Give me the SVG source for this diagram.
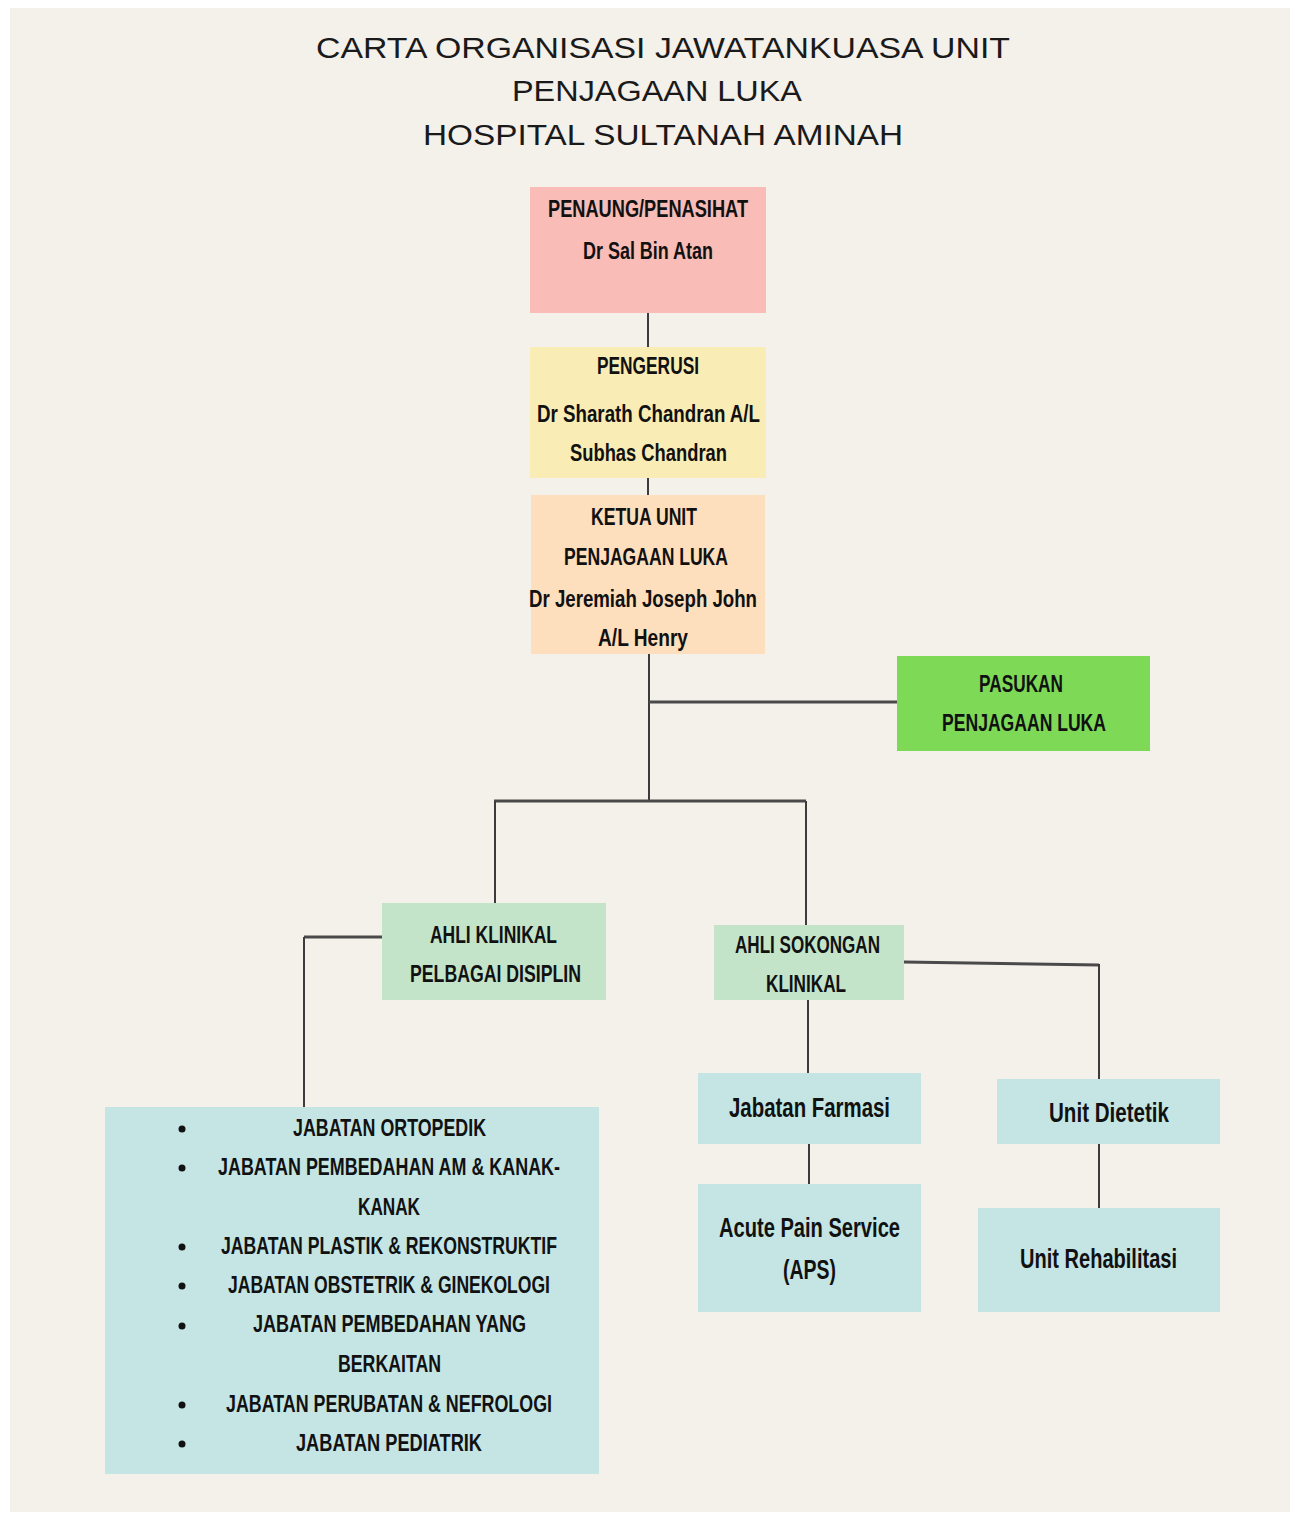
<svg xmlns="http://www.w3.org/2000/svg" width="1295" height="1514" viewBox="0 0 1295 1514">
<style>
.t{font-family:"Liberation Sans",Arial,sans-serif;font-weight:bold;font-size:24px;fill:#111}
.m{font-size:27px}
.title{font-family:"Liberation Sans",Arial,sans-serif;font-size:29px;fill:#1a1a1a}
.c{fill:none;stroke:#3c3c3c;stroke-width:2}
.c3{fill:none;stroke:#4a4a4a;stroke-width:3}
</style>
<rect x="0" y="0" width="1295" height="1514" fill="#ffffff"/>
<rect x="10" y="8" width="1280" height="1504" fill="#F4F0EA"/>
<g id="title">
<text class="title" x="316" y="58" textLength="694" lengthAdjust="spacingAndGlyphs">CARTA ORGANISASI JAWATANKUASA UNIT</text>
<text class="title" x="512" y="101" textLength="290" lengthAdjust="spacingAndGlyphs">PENJAGAAN LUKA</text>
<text class="title" x="423" y="145" textLength="480" lengthAdjust="spacingAndGlyphs">HOSPITAL SULTANAH AMINAH</text>
</g>
<g id="connectors">
<path class="c" d="M648,313 V347"/>
<path class="c" d="M648,478 V495"/>
<path class="c" d="M649,654 V801"/>
<path class="c3" d="M649,702 H897"/>
<path class="c3" d="M494,801 H806"/>
<path class="c" d="M495,801 V903"/>
<path class="c" d="M806,801 V925"/>
<path class="c3" d="M382,937 H304"/>
<path class="c" d="M304,937 V1107"/>
<path class="c3" d="M904,962 L1099,965"/>
<path class="c" d="M1099,964 V1079"/>
<path class="c" d="M808,1000 V1073"/>
<path class="c" d="M809,1144 V1184"/>
<path class="c" d="M1099,1144 V1208"/>
</g>
<g id="penaung">
<rect x="530" y="187" width="236" height="126" fill="#F9BCB6"/>
<text class="t" x="548" y="217" textLength="200" lengthAdjust="spacingAndGlyphs">PENAUNG/PENASIHAT</text>
<text class="t" x="583" y="259" textLength="130" lengthAdjust="spacingAndGlyphs">Dr Sal Bin Atan</text>
</g>
<g id="pengerusi">
<rect x="530" y="347" width="236" height="131" fill="#F9ECB5"/>
<text class="t" x="597" y="374" textLength="102" lengthAdjust="spacingAndGlyphs">PENGERUSI</text>
<text class="t" x="537" y="422" textLength="223" lengthAdjust="spacingAndGlyphs">Dr Sharath Chandran A/L</text>
<text class="t" x="570" y="461" textLength="157" lengthAdjust="spacingAndGlyphs">Subhas Chandran</text>
</g>
<g id="ketua">
<rect x="531" y="495" width="234" height="159" fill="#FDDFBE"/>
<text class="t" x="591" y="525" textLength="106" lengthAdjust="spacingAndGlyphs">KETUA UNIT</text>
<text class="t" x="564" y="565" textLength="164" lengthAdjust="spacingAndGlyphs">PENJAGAAN LUKA</text>
<text class="t" x="529" y="607" textLength="228" lengthAdjust="spacingAndGlyphs">Dr Jeremiah Joseph John</text>
<text class="t" x="598" y="646" textLength="90" lengthAdjust="spacingAndGlyphs">A/L Henry</text>
</g>
<g id="pasukan">
<rect x="897" y="656" width="253" height="95" fill="#7ED957"/>
<text class="t" x="979" y="692" textLength="84" lengthAdjust="spacingAndGlyphs">PASUKAN</text>
<text class="t" x="942" y="731" textLength="164" lengthAdjust="spacingAndGlyphs">PENJAGAAN LUKA</text>
</g>
<g id="ahli-klinikal">
<rect x="382" y="903" width="224" height="97" fill="#C4E4CA"/>
<text class="t" x="430" y="943" textLength="127" lengthAdjust="spacingAndGlyphs">AHLI KLINIKAL</text>
<text class="t" x="410" y="982" textLength="171" lengthAdjust="spacingAndGlyphs">PELBAGAI DISIPLIN</text>
</g>
<g id="ahli-sokongan">
<rect x="714" y="925" width="190" height="75" fill="#C4E4CA"/>
<text class="t" x="735" y="953" textLength="145" lengthAdjust="spacingAndGlyphs">AHLI SOKONGAN</text>
<text class="t" x="766" y="992" textLength="80" lengthAdjust="spacingAndGlyphs">KLINIKAL</text>
</g>
<g id="farmasi">
<rect x="698" y="1073" width="223" height="71" fill="#C4E5E4"/>
<text class="t m" x="729" y="1117" textLength="161" lengthAdjust="spacingAndGlyphs">Jabatan Farmasi</text>
</g>
<g id="aps">
<rect x="698" y="1184" width="223" height="128" fill="#C4E5E4"/>
<text class="t m" x="719" y="1237" textLength="181" lengthAdjust="spacingAndGlyphs">Acute Pain Service</text>
<text class="t m" x="783" y="1279" textLength="53" lengthAdjust="spacingAndGlyphs">(APS)</text>
</g>
<g id="dietetik">
<rect x="997" y="1079" width="223" height="65" fill="#C4E5E4"/>
<text class="t m" x="1049" y="1122" textLength="120" lengthAdjust="spacingAndGlyphs">Unit Dietetik</text>
</g>
<g id="rehabilitasi">
<rect x="978" y="1208" width="242" height="104" fill="#C4E5E4"/>
<text class="t m" x="1020" y="1268" textLength="157" lengthAdjust="spacingAndGlyphs">Unit Rehabilitasi</text>
</g>
<g id="jabatan-list">
<rect x="105" y="1107" width="494" height="367" fill="#C4E5E4"/>
<g fill="#111">
<circle cx="182" cy="1129" r="3.5"/>
<circle cx="182" cy="1168" r="3.5"/>
<circle cx="182" cy="1247" r="3.5"/>
<circle cx="182" cy="1286" r="3.5"/>
<circle cx="182" cy="1326" r="3.5"/>
<circle cx="182" cy="1405" r="3.5"/>
<circle cx="182" cy="1444" r="3.5"/>
</g>
<text class="t" x="293" y="1136" textLength="193" lengthAdjust="spacingAndGlyphs">JABATAN ORTOPEDIK</text>
<text class="t" x="218" y="1175" textLength="342" lengthAdjust="spacingAndGlyphs">JABATAN PEMBEDAHAN AM &amp; KANAK-</text>
<text class="t" x="358" y="1215" textLength="62" lengthAdjust="spacingAndGlyphs">KANAK</text>
<text class="t" x="221" y="1254" textLength="336" lengthAdjust="spacingAndGlyphs">JABATAN PLASTIK &amp; REKONSTRUKTIF</text>
<text class="t" x="228" y="1293" textLength="322" lengthAdjust="spacingAndGlyphs">JABATAN OBSTETRIK &amp; GINEKOLOGI</text>
<text class="t" x="253" y="1332" textLength="273" lengthAdjust="spacingAndGlyphs">JABATAN PEMBEDAHAN YANG</text>
<text class="t" x="338" y="1372" textLength="103" lengthAdjust="spacingAndGlyphs">BERKAITAN</text>
<text class="t" x="226" y="1412" textLength="326" lengthAdjust="spacingAndGlyphs">JABATAN PERUBATAN &amp; NEFROLOGI</text>
<text class="t" x="296" y="1451" textLength="186" lengthAdjust="spacingAndGlyphs">JABATAN PEDIATRIK</text>
</g>
</svg>
